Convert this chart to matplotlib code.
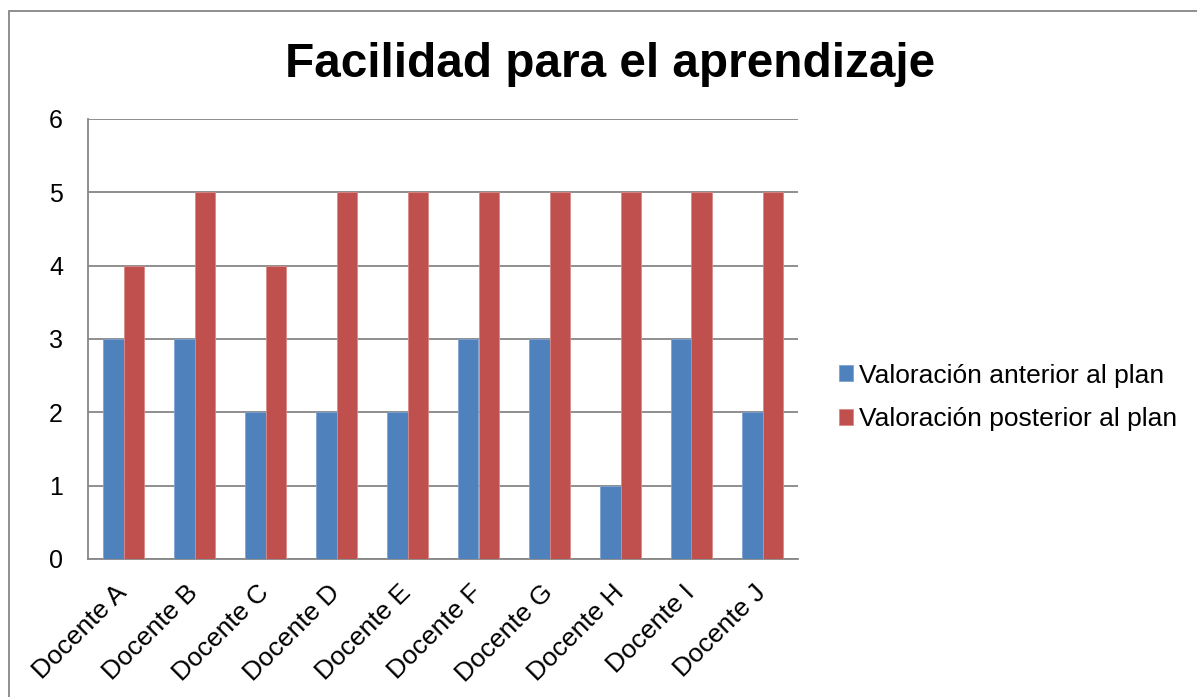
import matplotlib
matplotlib.use('Agg')
import matplotlib.pyplot as plt
import matplotlib.transforms as mtransforms
import numpy as np
from matplotlib.patches import Rectangle

plt.rcParams['font.family'] = ['Liberation Sans', 'DejaVu Sans']

docentes = ['Docente A', 'Docente B', 'Docente C', 'Docente D', 'Docente E',
            'Docente F', 'Docente G', 'Docente H', 'Docente I', 'Docente J']
anterior = [3, 3, 2, 2, 2, 3, 3, 1, 3, 2]
posterior = [4, 5, 4, 5, 5, 5, 5, 5, 5, 5]
series_names = ['Valoración anterior al plan', 'Valoración posterior al plan']

W, H = 1197, 697
fig = plt.figure(figsize=(W / 100, H / 100), dpi=100)

# outer chart frame (only left/top visible in the crop)
fig.patches.append(Rectangle((8.5 / W, -0.1), 1.2, (H - 10.5) / H + 0.1, transform=fig.transFigure,
                             fill=False, edgecolor='#868686', linewidth=1.3))

ax = fig.add_axes([88 / W, (H - 559) / H, 710 / W, 440 / H])

x = np.arange(len(docentes))
bw = 1 / 3.5
ax.bar(x - bw / 2, anterior, bw, color='#4F81BD', edgecolor='#7FA3D1', linewidth=0.6,
       label=series_names[0], zorder=3)
ax.bar(x + bw / 2, posterior, bw, color='#C0504D', edgecolor='#D88A88', linewidth=0.6,
       label=series_names[1], zorder=3)

ax.set_xlim(-0.5, len(docentes) - 0.5)
ax.set_ylim(0, 6)
ax.set_yticks(range(7))
ax.yaxis.grid(True, color='#868686', linewidth=1.3)
ax.set_axisbelow(True)
ax.tick_params(axis='both', length=0, labelsize=19)
ax.tick_params(axis='y', pad=18, labelsize=18)
for s in ['top', 'right']:
    ax.spines[s].set_visible(False)
for s in ['left', 'bottom']:
    ax.spines[s].set_color('#868686')
    ax.spines[s].set_linewidth(1.3)

ax.set_xticks(x)
ax.set_xticklabels(docentes, rotation=45, ha='right', va='baseline', rotation_mode='anchor')
ax.tick_params(axis='x', pad=25)
shift = mtransforms.ScaledTranslation(4.5 / 100, 0, fig.dpi_scale_trans)
for lbl in ax.get_xticklabels():
    lbl.set_transform(lbl.get_transform() + shift)

fig.text(610 / W, 1 - 77 / H, 'Facilidad para el aprendizaje', ha='center', va='baseline',
         fontsize=34.4, fontweight='bold')

ax.legend(loc='center left', bbox_to_anchor=(839 / W, 1 - 397.5 / H), bbox_transform=fig.transFigure,
          frameon=False, fontsize=19, handlelength=0.53, handleheight=0.53,
          handletextpad=0.22, labelspacing=0.75, borderpad=0, borderaxespad=0)

fig.savefig('out.png', dpi=100)
